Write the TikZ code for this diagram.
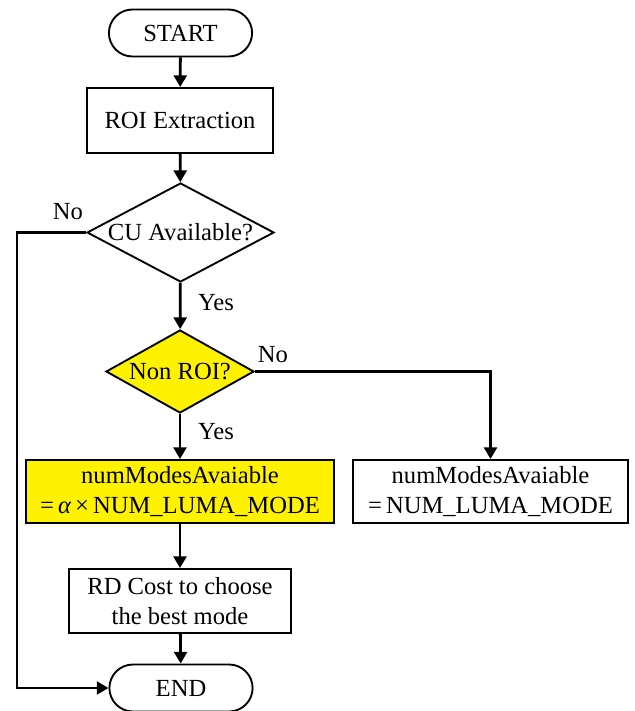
\documentclass[tikz,border=0pt]{standalone}
\usepackage{fontspec}
\setmainfont{Liberation Serif}
\usetikzlibrary{shapes.geometric, shapes.misc, arrows.meta}

% one unit of the drawing grid
\newdimen\px
\px=0.03cm

\tikzset{
    every node/.style={font=\fontsize{21}{25}\selectfont},
    terminal/.style={rounded rectangle, draw, line width=1.6pt, minimum width=151\px, minimum height=47\px},
    process/.style={rectangle, draw, line width=1.6pt, align=center, inner sep=0pt},
    decision/.style={diamond, draw, line width=1.6pt, inner sep=0pt},
    flow/.style={line width=2.4pt, -{Triangle[length=10pt, width=11pt]}},
    answer/.style={inner sep=0pt},
}

\begin{document}
\begin{tikzpicture}[x=\px, y=-\px]
        \clip (0,0) rectangle (634,711);
        \fill[white] (0,0) rectangle (634,711);

        % main column
        \node[terminal] (start) at (180.5,33) {START};
        \node[process, minimum width=186\px, minimum height=65\px] (roi) at (180,120.5) {ROI Extraction};
        \node[decision, fill=white, minimum width=187\px, minimum height=99\px] (cu) at (180.5,232.5) {\makebox[0pt]{CU Available?}};
        \node[decision, fill=yellow, minimum width=148\px, minimum height=83\px] (nonroi) at (180,371.5) {\makebox[0pt]{Non ROI?}};
        \node[process, fill=yellow, minimum width=308\px, minimum height=63\px] (reduced) at (180,491.5)
            {numModesAvaiable\\=\,{\itshape α}\,×\,NUM\_LUMA\_MODE};
        \node[process, minimum width=275\px, minimum height=63\px] (full) at (490.5,491.5)
            {numModesAvaiable\\=\,NUM\_LUMA\_MODE};
        \node[process, minimum width=222\px, minimum height=64\px] (rdcost) at (180,601)
            {RD Cost to choose\\the best mode};
        \node[terminal] (end) at (181,688) {END};

        % branch labels
        \node[answer] (cuno) at (68,212) {No};
        \node[answer] (cuyes) at (216,303) {Yes};
        \node[answer] (roino) at (273,355) {No};
        \node[answer] (roiyes) at (216,432) {Yes};

        \coordinate (loop) at (17,232.5);

        \draw[flow] (start) -- (roi);
        \draw[flow] (roi) -- (cu);
        \draw[flow] (cu) -- (nonroi);
        \draw[flow] (nonroi) -- (reduced);
        \draw[flow] (nonroi.east) -| (full.north);
        \draw[flow] (reduced) -- (rdcost);
        \draw[flow] (rdcost) -- (end);
        \draw[flow] (cu.west) -- (loop) |- (end.west);
    \end{tikzpicture}
\end{document}
